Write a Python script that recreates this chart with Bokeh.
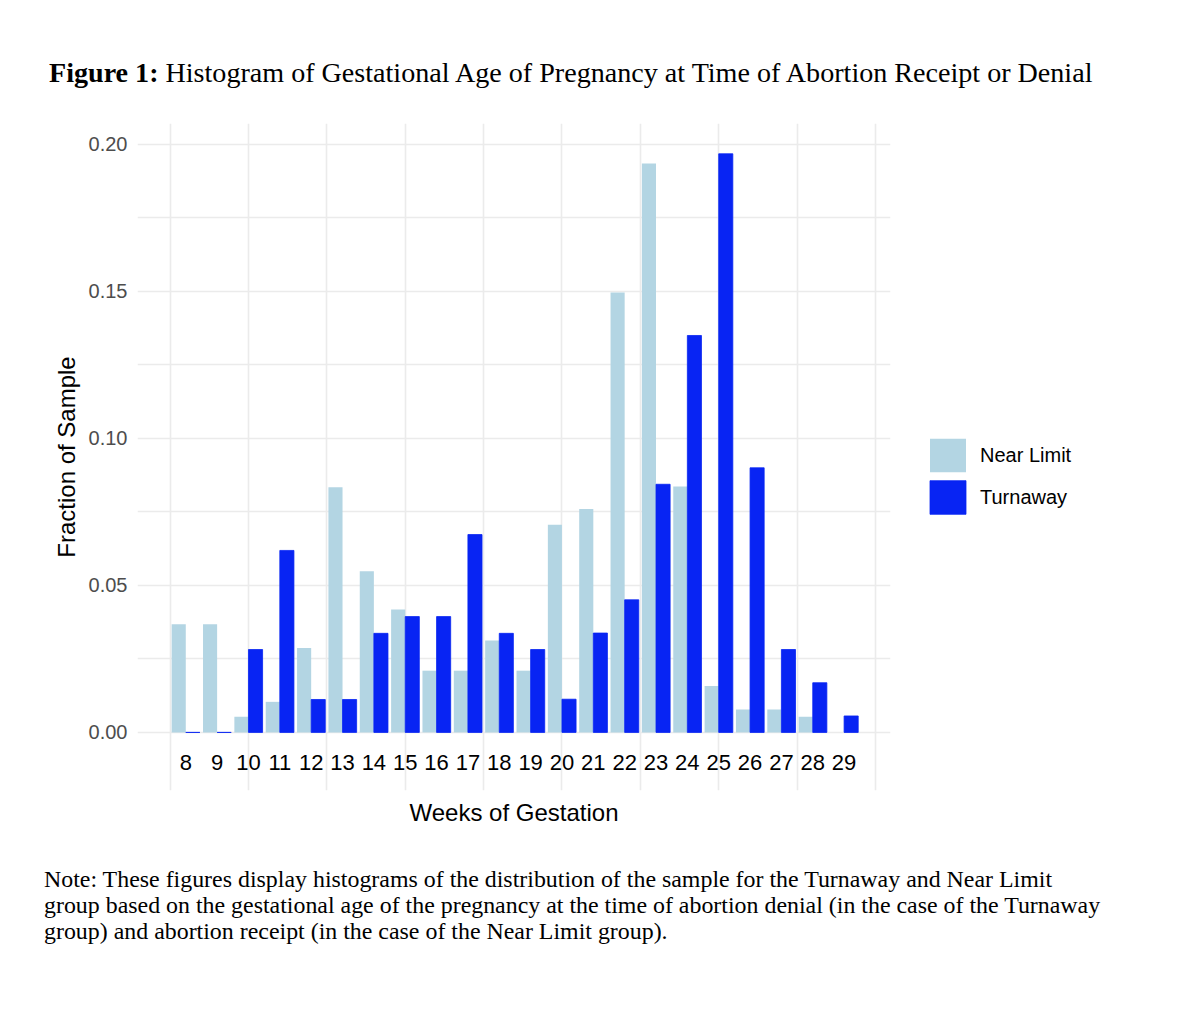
from bokeh.plotting import figure
from bokeh.models import Div, FixedTicker, NumeralTickFormatter, ColumnDataSource, Legend, LegendItem
from bokeh.layouts import column
from bokeh.transform import dodge
from bokeh.core.properties import value
from bokeh.embed import file_html
from bokeh.resources import INLINE

weeks = [8, 9, 10, 11, 12, 13, 14, 15, 16, 17, 18, 19, 20, 21, 22, 23, 24, 25, 26, 27, 28, 29]
near_limit = [0.0368, 0.0368, 0.0053, 0.0104, 0.0287, 0.0834, 0.0548, 0.0418, 0.0210, 0.0210, 0.0313,
              0.0210, 0.0706, 0.0760, 0.1496, 0.1935, 0.0836, 0.0158, 0.0078, 0.0078, 0.0053, 0.0]
turnaway = [0.0, 0.0, 0.0282, 0.0619, 0.0112, 0.0112, 0.0337, 0.0394, 0.0394, 0.0673, 0.0337,
            0.0282, 0.0113, 0.0338, 0.0451, 0.0844, 0.1350, 0.1968, 0.0900, 0.0282, 0.0169, 0.0056]
week_labels = [str(w) for w in weeks]
y_ticks = [0.0, 0.05, 0.10, 0.15, 0.20]
series_names = ["Near Limit", "Turnaway"]

NEAR_COLOR = "#B3D5E3"
TURN_COLOR = "#0824F3"
SANS = "Liberation Sans"
SERIF = "Liberation Serif"

src = ColumnDataSource(dict(week=weeks, near=near_limit, turn=turnaway, lab=week_labels,
                            ly=[-0.0102] * len(weeks)))

p = figure(frame_width=753, frame_height=667, x_range=(6.46, 30.48), y_range=(-0.01975, 0.2071),
           output_backend="svg", toolbar_location=None,
           min_border_left=137, min_border_right=10, min_border_top=23, min_border_bottom=60)
p.outline_line_color = None
p.background_fill_color = "white"
p.border_fill_color = "white"

r_near = p.vbar(x=dodge("week", -0.225, range=p.x_range), top="near", width=0.45, source=src,
                fill_color=NEAR_COLOR, line_color=None)
r_turn = p.vbar(x=dodge("week", 0.225, range=p.x_range), top="turn", width=0.45, source=src,
                fill_color=TURN_COLOR, line_color=TURN_COLOR, line_width=0.8)

p.text(x="week", y="ly", text="lab", source=src, text_align="center", text_baseline="middle",
       text_font=value(SANS), text_font_size="22px", text_color="black")

# grids
p.xgrid.ticker = FixedTicker(ticks=[7.5, 10, 12.5, 15, 17.5, 20, 22.5, 25, 27.5, 30])
p.ygrid.ticker = FixedTicker(ticks=[0, 0.025, 0.05, 0.075, 0.10, 0.125, 0.15, 0.175, 0.20])
for g in (p.xgrid, p.ygrid):
    g.grid_line_color = "#EBEBEB"
    g.grid_line_width = 1.6

# axes
p.xaxis.ticker = FixedTicker(ticks=[])
p.xaxis.axis_label = "Weeks of Gestation"
p.yaxis.ticker = FixedTicker(ticks=y_ticks)
p.yaxis.formatter = NumeralTickFormatter(format="0.00")
p.yaxis.axis_label = "Fraction of Sample"
for ax in (p.xaxis, p.yaxis):
    ax.axis_line_color = None
    ax.major_tick_line_color = None
    ax.minor_tick_line_color = None
    ax.major_tick_in = 0
    ax.major_tick_out = 0
    ax.minor_tick_in = 0
    ax.minor_tick_out = 0
    ax.axis_label_text_font = SANS
    ax.axis_label_text_font_style = "normal"
    ax.axis_label_text_font_size = "24px"
    ax.axis_label_text_color = "black"
    ax.major_label_text_font = SANS
    ax.major_label_text_font_size = "20px"
    ax.major_label_text_color = "#4D4D4D"
p.yaxis.major_label_standoff = 10
p.yaxis.axis_label_standoff = 6
p.xaxis.axis_label_standoff = 8

legend = Legend(items=[LegendItem(label=series_names[0], renderers=[r_near]),
                       LegendItem(label=series_names[1], renderers=[r_turn])],
                location=(35, 272), orientation="vertical",
                glyph_width=45, glyph_height=42, label_standoff=10, spacing=0,
                padding=0, margin=0, border_line_color=None, background_fill_alpha=0,
                label_text_font=SANS, label_text_font_size="20px", label_text_color="black")
p.add_layout(legend, "right")

title_div = Div(width=1184, height=90, text=(
    f'<div style="font-family:\'{SERIF}\'; font-size:28.1px; line-height:31px; padding-top:52px; '
    f'padding-left:44px; color:black; white-space:nowrap;">'
    '<b>Figure 1:</b> Histogram of Gestational Age of Pregnancy at Time of Abortion Receipt or Denial</div>'))

note_div = Div(width=1184, height=120, text=(
    f'<div style="font-family:\'{SERIF}\'; font-size:23.9px; line-height:26px; padding-top:11px; '
    f'padding-left:39px; color:black; white-space:nowrap;">'
    'Note: These figures display histograms of the distribution of the sample for the Turnaway and Near Limit<br>'
    'group based on the gestational age of the pregnancy at the time of abortion denial (in the case of the Turnaway<br>'
    'group) and abortion receipt (in the case of the Near Limit group).</div>'))

layout = column(title_div, p, note_div, spacing=0)

open("out.html", "w").write(file_html(layout, INLINE))
